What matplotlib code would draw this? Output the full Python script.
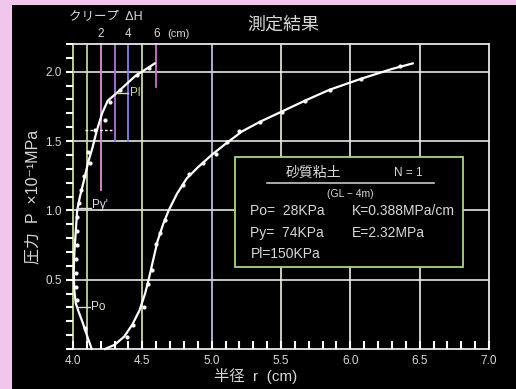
import matplotlib
matplotlib.use("Agg")
import matplotlib.pyplot as plt
from matplotlib.patches import Rectangle
from matplotlib.ticker import MultipleLocator

plt.rcParams['font.family'] = ['Liberation Sans', 'Noto Sans CJK JP', 'DejaVu Sans']

# pressure vs radius curve (r cm, P x10^-1 MPa)
r_rad = [4.23, 4.30, 4.37, 4.43, 4.48, 4.52, 4.55, 4.58, 4.61, 4.65, 4.69, 4.75,
         4.82, 4.90, 5.00, 5.10, 5.22, 5.35, 5.50, 5.67, 5.85, 6.08, 6.30, 6.45]
p_rad = [0.00, 0.03, 0.09, 0.18, 0.28, 0.40, 0.52, 0.65, 0.78, 0.90, 1.00, 1.12,
         1.23, 1.31, 1.40, 1.48, 1.57, 1.64, 1.71, 1.79, 1.87, 1.95, 2.02, 2.06]
r_rad_pts = [4.39, 4.43, 4.51, 4.54, 4.57, 4.60, 4.63, 4.66, 4.79, 4.84, 4.94,
             5.03, 5.11, 5.20, 5.35, 5.51, 5.67, 5.85, 6.08, 6.36]
p_rad_pts = [0.09, 0.17, 0.30, 0.47, 0.57, 0.76, 0.84, 0.93, 1.18, 1.26, 1.34,
             1.41, 1.49, 1.57, 1.64, 1.71, 1.79, 1.87, 1.95, 2.04]

# creep curve
r_crp = [4.135, 4.10, 4.07, 4.04, 4.02, 4.01, 4.005, 4.01, 4.02, 4.03, 4.05, 4.08,
         4.11, 4.14, 4.17, 4.21, 4.25, 4.33, 4.45, 4.59]
p_crp = [0.00, 0.10, 0.19, 0.27, 0.33, 0.42, 0.55, 0.70, 0.85, 1.00, 1.10, 1.22,
         1.35, 1.45, 1.57, 1.70, 1.79, 1.86, 1.97, 2.06]
r_crp_pts = [4.09, 4.03, 4.02, 4.02, 4.02, 4.03, 4.03, 4.03, 4.04, 4.06, 4.08,
             4.11, 4.12, 4.16, 4.23, 4.27, 4.34, 4.46, 4.55]
p_crp_pts = [0.15, 0.35, 0.45, 0.55, 0.65, 0.75, 0.85, 0.95, 1.05, 1.15, 1.25,
             1.42, 1.34, 1.58, 1.65, 1.78, 1.87, 1.98, 2.03]

# creep scale lines: r position, lower end P, colour
creep_x = [4.2, 4.3, 4.4, 4.6]
creep_lo = [1.15, 1.5, 1.5, 1.89]
creep_col = ['#e090d8', '#b070e0', '#8c78f0', '#d070d0']
creep_tick_x = [4.2, 4.4, 4.6]
creep_tick_lab = ['2', '4', '6']

x_ticks = [4.0, 4.5, 5.0, 5.5, 6.0, 6.5, 7.0]
y_ticks = [0.5, 1.0, 1.5, 2.0]

fig = plt.figure(figsize=(5.16, 3.89), dpi=100, facecolor='#f2c6ec')
fig.patches.append(Rectangle((12 / 516, 0), 1, 1 - 5 / 389, transform=fig.transFigure,
                             facecolor='black', edgecolor='none', zorder=-5))
ax = fig.add_axes([73 / 516, 40 / 389, 416 / 516, 305 / 389])
ax.set_facecolor('black')
ax.set_xlim(4.0, 7.0)
ax.set_ylim(0, 2.2)
ax.set_axisbelow(False)

fg = '#d8d8d8'
for s in ax.spines.values():
    s.set_color('#e8e8e8')
    s.set_linewidth(1.3)
ax.spines['left'].set_color('#c8e0a0')

# grid
for y in y_ticks:
    ax.axhline(y, color='#e4e4e4', lw=1.2, zorder=1)
ax.axvline(4.5, color='#d8ecb0', lw=1.2, zorder=1)
ax.axvline(5.0, color='#c8d0f4', lw=1.2, zorder=1)
for x in [5.5, 6.0, 6.5]:
    ax.axvline(x, color='#e8f0e0', lw=1.2, zorder=1)
ax.axvline(4.1, color='#c8e898', lw=1.2, zorder=1)

# creep lines
for x, lo, c in zip(creep_x, creep_lo, creep_col):
    ax.plot([x, x], [lo, 2.2], color=c, lw=1.3, zorder=2, clip_on=False)

ax.set_xticks(x_ticks)
ax.set_xticklabels(['%.1f' % v for v in x_ticks])
ax.xaxis.set_minor_locator(MultipleLocator(0.1))
ax.tick_params(axis='x', which='both', direction='in', colors='white',
               length=6, width=1.5, pad=4, labelsize=8.5)
ax.set_yticks(y_ticks)
ax.set_yticklabels(['%.1f' % v for v in y_ticks])
ax.yaxis.set_minor_locator(MultipleLocator(0.1))
ax.tick_params(axis='y', which='both', direction='out', colors='white',
               length=5, width=1.5, pad=3, labelsize=8.5)
for lab in ax.get_xticklabels() + ax.get_yticklabels():
    lab.set_color(fg)

# info box
ax.add_patch(Rectangle((5.169, 0.592), 1.645, 0.793, facecolor='black',
                       edgecolor='#a8d880', lw=1.3, zorder=3))
ax.text(5.73, 1.27, '砂質粘土', color=fg, fontsize=10, ha='center', va='center', zorder=4)
ax.text(6.42, 1.27, 'N = 1', color=fg, fontsize=8.5, ha='center', va='center', zorder=4)
ax.plot([5.40, 6.60], [1.198, 1.198], color=fg, lw=1.1, zorder=4)
ax.text(6.0, 1.12, '(GL − 4m)', color=fg, fontsize=7.5, ha='center', va='center', zorder=4)
ax.text(5.28, 0.996, 'Po=  28KPa', color=fg, fontsize=10, va='center', zorder=4)
ax.text(6.01, 0.996, 'K=0.388MPa/cm', color=fg, fontsize=10, va='center', zorder=4)
ax.text(5.28, 0.837, 'Py=  74KPa', color=fg, fontsize=10, va='center', zorder=4)
ax.text(6.01, 0.837, 'E=2.32MPa', color=fg, fontsize=10, va='center', zorder=4)
ax.text(5.28, 0.685, 'Pl=150KPa', color=fg, fontsize=10, va='center', zorder=4)

# curves
ax.plot(r_rad, p_rad, color='white', lw=1.6, zorder=5, clip_on=False)
ax.plot(r_rad_pts, p_rad_pts, 'o', color='white', ms=2.0, zorder=6)
ax.plot(r_crp, p_crp, color='white', lw=1.6, zorder=5, clip_on=False)
ax.plot(r_crp_pts, p_crp_pts, 'o', color='white', ms=2.0, zorder=6)
ax.plot([4.09, 4.28], [1.58, 1.58], color='white', lw=1.0, ls=(0, (2, 1.5)), zorder=5)

# annotations
ax.plot([4.30, 4.40], [1.85, 1.85], color='#d0e890', lw=1.0, zorder=5)
ax.text(4.41, 1.85, "Pl'", color='#c8e070', fontsize=8.5, va='center', zorder=6)
ax.plot([4.03, 4.13], [1.02, 1.02], color=fg, lw=1.0, zorder=5)
ax.text(4.14, 1.04, "Py'", color='#e0d8f0', fontsize=8.5, va='center', zorder=6)
ax.plot([4.03, 4.12], [0.30, 0.30], color=fg, lw=1.0, zorder=5)
ax.text(4.13, 0.30, 'Po', color='#d8e8c8', fontsize=8.5, va='center', zorder=6)

# creep scale labels above the frame
for x, lab in zip(creep_tick_x, creep_tick_lab):
    ax.text(x, 2.27, lab, color=fg, fontsize=8.5, ha='center', va='center', clip_on=False)
ax.text(4.68, 2.27, '(cm)', color=fg, fontsize=8, ha='left', va='center', clip_on=False)
ax.text(4.24, 2.40, 'クリープ  ΔH', color=fg, fontsize=9, ha='center', va='center', clip_on=False)

fig.text(283 / 516, 1 - 25 / 389, '測定結果', color=fg, fontsize=13, ha='center', va='center')
fig.text(33 / 516, 1 - 197 / 389, '圧力  P  ×10⁻¹MPa', color=fg, fontsize=11.5,
         rotation=90, ha='center', va='center')
fig.text(256 / 516, 1 - 376 / 389, '半径  r  (cm)', color=fg, fontsize=11,
         ha='center', va='center')

fig.savefig('out.png', dpi=100, facecolor=fig.get_facecolor())
